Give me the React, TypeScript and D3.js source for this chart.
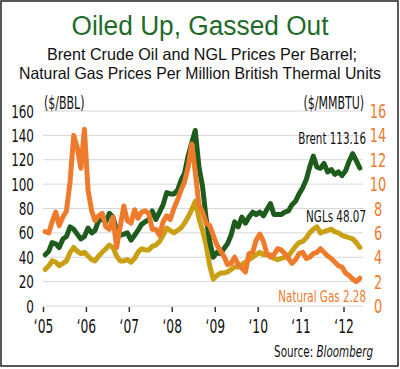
import * as d3 from 'd3';

// monthly readings, Jan 2005 .. May 2012
const brent = [
  42, 45, 52, 51, 48, 55, 57, 65, 63, 59, 55, 57,
  64, 60, 62, 70, 71, 69, 76, 73, 62, 58, 59, 60,
  54, 58, 62, 67, 69, 71, 78, 71, 77, 83, 93, 92,
  92, 95, 103, 109, 123, 134, 144, 114, 98, 72, 53, 40,
  44, 43, 47, 51, 58, 69, 65, 73, 68, 73, 77, 75,
  77, 74, 79, 84, 75, 75, 75, 77, 78, 83, 86, 92,
  97, 104, 114, 123, 114, 113, 117, 110, 112, 108, 110, 107,
  111, 119, 125, 119, 113.16,
];

const ngl = [
  30, 33, 37, 36, 33, 35, 37, 44, 48, 45, 43, 44,
  41, 38, 37, 41, 44, 47, 50, 48, 41, 37, 37, 38,
  36, 39, 44, 47, 46, 46, 49, 50, 53, 58, 64, 62,
  60, 62, 64, 68, 73, 79, 86, 72, 62, 50, 33, 22,
  25, 27, 27, 28, 30, 32, 32, 34, 36, 38, 40, 42,
  44, 42, 42, 42, 39, 38, 39, 40, 41, 45, 49, 52,
  53, 56, 60, 63, 65, 60, 61, 62, 63, 61, 60, 58,
  57, 56, 55, 52, 48.07,
];

const natGas = [
  6.1, 6.0, 6.9, 7.7, 6.6, 7.3, 7.8, 10.2, 14.0, 13.0, 11.3, 14.5,
  9.5, 7.8, 7.0, 7.4, 7.6, 6.5, 6.3, 7.3, 4.8, 6.5, 8.2, 7.0,
  6.8, 7.9, 7.2, 7.7, 7.8, 7.6, 6.3, 6.3, 5.8, 6.9, 7.4, 7.1,
  8.0, 8.7, 9.5, 10.2, 11.4, 13.3, 11.0, 8.3, 7.7, 6.8, 6.6, 5.8,
  5.0, 4.5, 4.1, 3.4, 3.5, 4.0, 3.4, 3.1, 2.8, 4.3, 4.4, 5.4,
  5.9, 5.3, 4.3, 4.0, 4.2, 4.7, 4.6, 4.3, 3.9, 3.5, 3.8, 4.3,
  4.4, 3.9, 4.0, 4.3, 4.4, 4.7, 4.4, 4.1, 3.9, 3.6, 3.3, 3.2,
  2.7, 2.5, 2.2, 2.0, 2.28,
];

const leftTicks = [0, 20, 40, 60, 80, 100, 120, 140, 160];
const rightTicks = [0, 2, 4, 6, 8, 10, 12, 14, 16];
const years = [2005, 2006, 2007, 2008, 2009, 2010, 2011, 2012];
const yearLabels = ['‘05', '‘06', '‘07', '‘08', '‘09', '‘10', '‘11', '‘12'];

const GREEN = '#1d5c1c';
const GOLD = '#c9a014';
const ORANGE = '#ee7a2c';
const NARROW = "'DejaVu Sans Condensed', 'DejaVu Sans', sans-serif";

// condensed text: squeeze horizontally since no narrow face is installed
function N({ x, y, size, fill = '#111', anchor = 'start', sx = 0.72, children }: any) {
  return (
    <text transform={`translate(${x},${y}) scale(${sx},1)`} textAnchor={anchor}
      fontSize={size} fill={fill} fontFamily={NARROW}>
      {children}
    </text>
  );
}

export default function App() {
  const x = d3.scaleTime()
    .domain([new Date(2005, 0, 1), new Date(2012, 0, 1)])
    .range([43.5, 344]);
  const yL = d3.scaleLinear().domain([0, 160]).range([306, 111]);
  const yR = d3.scaleLinear().domain([0, 16]).range([306, 111]);

  const date = (i: number) => d3.timeMonth.offset(new Date(2005, 0, 15), i);

  const lineL = d3.line<number>().x((_, i) => x(date(i))).y(d => yL(d));
  const lineR = d3.line<number>().x((_, i) => x(date(i))).y(d => yR(d));

  return (
    <svg width={400} height={369} style={{ position: 'absolute', left: 0, top: 0, background: '#fff' }}>
      <rect x={1} y={1} width={397} height={365} fill="#fff" stroke="#222" strokeWidth={1.5} />

      <text x={200} y={35} textAnchor="middle" fill="#1f6b2a" fontSize={27}
        fontFamily="'Liberation Sans', sans-serif" textLength={257} lengthAdjust="spacingAndGlyphs">
        Oiled Up, Gassed Out
      </text>
      <text x={202} y={60} textAnchor="middle" fill="#111" fontSize={16.5}
        fontFamily="'Liberation Sans', sans-serif" textLength={310} lengthAdjust="spacingAndGlyphs">
        Brent Crude Oil and NGL Prices Per Barrel;
      </text>
      <text x={200} y={79} textAnchor="middle" fill="#111" fontSize={16.5}
        fontFamily="'Liberation Sans', sans-serif" textLength={362} lengthAdjust="spacingAndGlyphs">
        Natural Gas Prices Per Million British Thermal Units
      </text>

      {/* grid */}
      {leftTicks.map(t => (
        <line key={t} x1={43} x2={363} y1={yL(t)} y2={yL(t)} stroke="#d6d6d6" strokeWidth={1} />
      ))}

      {/* axis labels */}
      {leftTicks.map(t => (
        <N key={t} x={34} y={yL(t) + 6.5} size={18.5} anchor="end">{t}</N>
      ))}
      {rightTicks.map(t => (
        <N key={t} x={378} y={yR(t) + 7} size={20} anchor="middle" fill={ORANGE}>{t}</N>
      ))}
      {years.map((yr, i) => (
        <g key={yr}>
          <line x1={x(new Date(yr, 0, 1))} x2={x(new Date(yr, 0, 1))} y1={307} y2={312} stroke="#333" strokeWidth={1.5} />
          <N x={x(new Date(yr, 0, 1))} y={333} size={19} anchor="middle">{yearLabels[i]}</N>
        </g>
      ))}
      <N x={44} y={109} size={17}>($/BBL)</N>
      <N x={364} y={109} size={17} anchor="end">($/MMBTU)</N>

      {/* series */}
      <g fill="none" strokeWidth={5} strokeLinejoin="round" strokeLinecap="round">
        <path d={lineL(ngl) ?? ''} stroke={GOLD} />
        <path d={lineL(brent) ?? ''} stroke={GREEN} />
        <path d={lineR(natGas) ?? ''} stroke={ORANGE} />
      </g>

      <N x={366} y={144} size={16} anchor="end">Brent {brent[brent.length - 1]}</N>
      <N x={366} y={222} size={16} anchor="end">NGLs {ngl[ngl.length - 1]}</N>
      <N x={366} y={302} size={16} anchor="end" fill={ORANGE}>Natural Gas {natGas[natGas.length - 1]}</N>
      <N x={373} y={357} size={16} anchor="end">
        Source: <tspan fontStyle="italic">Bloomberg</tspan>
      </N>
    </svg>
  );
}
